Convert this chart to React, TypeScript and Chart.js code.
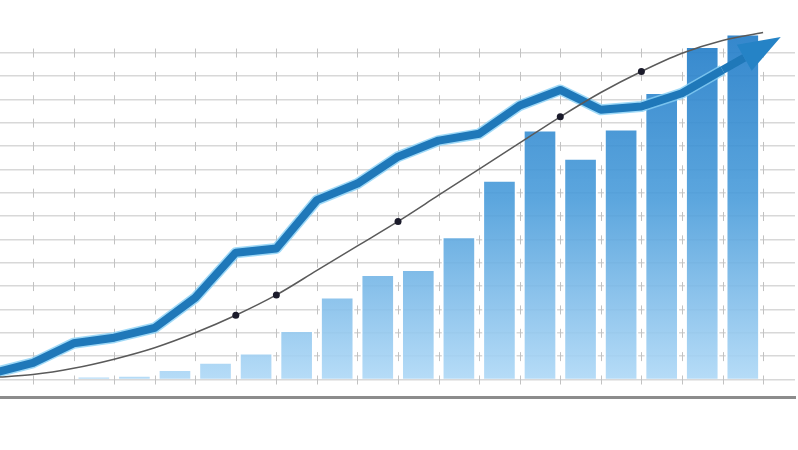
import { useEffect, useRef } from "react";
import { Chart, registerables } from "chart.js";

Chart.register(...registerables);

// bars, one per period, starting in period 1 (between tick 1 and tick 2)
const barValues = [0.12, 0.17, 0.43, 0.74, 1.14, 2.1, 3.54, 4.5, 4.72, 6.12, 8.54, 10.69, 9.48, 10.73, 12.3, 14.27, 14.8];
// thick growth line, one value per tick from tick -1 to tick 17
const trendValues = [0.27, 0.71, 1.55, 1.79, 2.21, 3.5, 5.43, 5.61, 7.68, 8.39, 9.54, 10.23, 10.52, 11.73, 12.4, 11.55, 11.69, 12.26, 13.25];
// thin smooth curve, one value per tick from tick -1 to tick 18
const curveValues = [0.08, 0.21, 0.48, 0.87, 1.36, 2.0, 2.75, 3.62, 4.67, 5.72, 6.77, 7.89, 9.01, 10.13, 11.25, 12.29, 13.19, 13.97, 14.52, 14.86];
// ticks where the curve carries a dot
const curveDots = [5, 6, 9, 13, 15];
const gridLevels = Array.from({ length: 15 }, (_, i) => i);
const periodTicks = Array.from({ length: 19 }, (_, i) => i);

const firstBarTick = 1;
const firstLineTick = -1;

const tickMarks = {
  id: "tickMarks",
  beforeDatasetsDraw(chart: any) {
    const xs = chart.scales.x;
    const ys = chart.scales.y;
    const ctx = chart.ctx;
    ctx.save();
    ctx.strokeStyle = "#c2c2c2";
    ctx.lineWidth = 1;
    for (const a of xs.ticks) {
      const px = Math.round(xs.getPixelForValue(a.value)) + 0.5;
      for (const b of ys.ticks) {
        const py = ys.getPixelForValue(b.value);
        ctx.beginPath();
        ctx.moveTo(px, py - 4);
        ctx.lineTo(px, py + 5);
        ctx.stroke();
      }
    }
    ctx.restore();
  },
};

const arrowHead = {
  id: "arrowHead",
  afterDatasetsDraw(chart: any) {
    const pts = chart.getDatasetMeta(2).data;
    if (pts.length < 2) return;
    const a = pts[pts.length - 2];
    const b = pts[pts.length - 1];
    const ang = Math.atan2(b.y - a.y, b.x - a.x);
    const cos = Math.cos(ang);
    const sin = Math.sin(ang);
    const bx = b.x + cos * 25;
    const by = b.y + sin * 25;
    const ctx = chart.ctx;
    ctx.save();
    ctx.strokeStyle = "#1f78b9";
    ctx.lineWidth = 8;
    ctx.beginPath();
    ctx.moveTo(b.x, b.y);
    ctx.lineTo(bx, by);
    ctx.stroke();
    ctx.fillStyle = "#2583c6";
    ctx.beginPath();
    ctx.moveTo(bx + cos * 42, by + sin * 42);
    ctx.lineTo(bx - sin * 15, by + cos * 15);
    ctx.lineTo(bx + sin * 15, by - cos * 15);
    ctx.closePath();
    ctx.fill();
    ctx.restore();
  },
};

export default function App() {
  const chartRef = useRef<HTMLCanvasElement>(null);

  useEffect(() => {
    if (!chartRef.current) return;
    const ctx = chartRef.current.getContext("2d");
    if (!ctx) return;

    const bars = barValues.map((v, i) => ({ x: firstBarTick + i + 0.5, y: v }));
    const trend = trendValues.map((v, i) => ({ x: firstLineTick + i, y: v }));
    const curve = curveValues.map((v, i) => ({ x: firstLineTick + i, y: v }));

    const barFill = (c: any) => {
      const area = c.chart.chartArea;
      if (!area) return "#7fbbe9";
      const g = c.chart.ctx.createLinearGradient(0, area.bottom, 0, area.top);
      g.addColorStop(0, "rgba(184,222,249,0.9)");
      g.addColorStop(0.5, "rgba(74,156,218,0.9)");
      g.addColorStop(1, "rgba(26,118,196,0.92)");
      return g;
    };

    const myChart = new Chart(ctx, {
      type: "bar",
      data: {
        datasets: [
          {
            type: "bar",
            data: bars,
            backgroundColor: barFill,
            borderColor: "#ffffff",
            borderWidth: 2,
            barThickness: 34,
            order: 5,
          } as any,
          {
            type: "line",
            data: trend,
            borderColor: "rgba(135,208,245,0.8)",
            borderWidth: 11,
            borderJoinStyle: "round",
            pointRadius: 0,
            tension: 0,
            order: 4,
          },
          {
            type: "line",
            data: trend,
            borderColor: "#1f78b9",
            borderWidth: 8,
            borderJoinStyle: "round",
            pointRadius: 0,
            tension: 0,
            order: 3,
          },
          {
            type: "line",
            data: curve,
            borderColor: "#5a5a5a",
            borderWidth: 1.5,
            cubicInterpolationMode: "monotone",
            pointRadius: (c: any) => (curveDots.includes(c.dataIndex + firstLineTick) ? 3.5 : 0),
            pointBackgroundColor: "#1b1b2b",
            pointBorderWidth: 0,
            order: 1,
          },
        ],
      },
      options: {
        animation: false,
        responsive: true,
        maintainAspectRatio: false,
        events: [],
        layout: { padding: { left: 0, right: 3, top: 0, bottom: 53 } },
        plugins: { legend: { display: false }, tooltip: { enabled: false } },
        scales: {
          x: {
            type: "linear",
            offset: false,
            min: -0.8136,
            max: 18.787,
            afterBuildTicks: (s: any) => {
              s.ticks = periodTicks.map((v) => ({ value: v }));
            },
            ticks: { display: false },
            grid: { display: false, drawTicks: false },
            border: { display: true, color: "#8c8c8c", width: 3 },
          },
          y: {
            type: "linear",
            min: -0.75,
            max: 16.25,
            afterBuildTicks: (s: any) => {
              s.ticks = gridLevels.map((v) => ({ value: v }));
            },
            ticks: { display: false },
            grid: { drawTicks: false, lineWidth: 1.5, color: "#d8d8d8" },
            border: { display: false },
          },
        },
      },
      plugins: [tickMarks, arrowHead],
    });

    return () => {
      myChart.destroy();
    };
  }, []);

  return (
    <div style={{ position: "fixed", left: 0, top: 0, width: 798, height: 450, background: "#fff" }}>
      <canvas ref={chartRef} />
    </div>
  );
}
